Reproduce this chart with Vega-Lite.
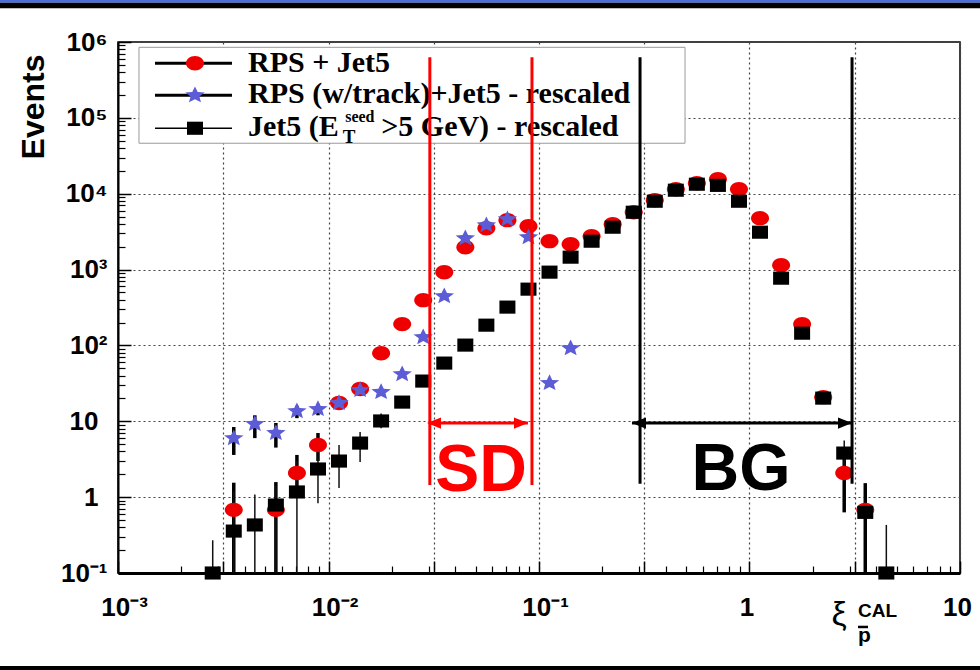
{
  "$schema": "https://vega.github.io/schema/vega-lite/v6.json",
  "width": 842,
  "height": 531,
  "autosize": {"type": "none"},
  "padding": {"left": 118, "top": 42, "right": 20, "bottom": 97},
  "background": "white",
  "config": {
    "view": {"stroke": "black", "strokeWidth": 1.5},
    "axis": {"labelFont": "Liberation Sans", "labelFontWeight": "bold", "labelColor": "black", "labelFontSize": 26, "tickColor": "black", "domainColor": "black", "titleColor": "black", "labelFlush": false, "labelOverlap": false, "labelBound": false}
  },
  "resolve": {"axis": {"x": "independent", "y": "independent"}},
  "datasets": {
    "pts": [
      {"s": "rps", "x": 0.003548, "y": 0.68}, {"s": "rps", "x": 0.005623, "y": 0.68}, {"s": "rps", "x": 0.007079, "y": 2.08}, {"s": "rps", "x": 0.008913, "y": 4.86}, {"s": "rps", "x": 0.01122, "y": 17.4}, {"s": "rps", "x": 0.01413, "y": 26.6}, {"s": "rps", "x": 0.01778, "y": 79}, {"s": "rps", "x": 0.02239, "y": 191}, {"s": "rps", "x": 0.02818, "y": 395}, {"s": "rps", "x": 0.03548, "y": 924}, {"s": "rps", "x": 0.04467, "y": 1970}, {"s": "rps", "x": 0.05623, "y": 3510}, {"s": "rps", "x": 0.07079, "y": 4480}, {"s": "rps", "x": 0.08913, "y": 3730}, {"s": "rps", "x": 0.1122, "y": 2370}, {"s": "rps", "x": 0.1413, "y": 2160}, {"s": "rps", "x": 0.1778, "y": 2750}, {"s": "rps", "x": 0.2239, "y": 3960}, {"s": "rps", "x": 0.2818, "y": 5700}, {"s": "rps", "x": 0.3548, "y": 8200}, {"s": "rps", "x": 0.4467, "y": 11460}, {"s": "rps", "x": 0.5623, "y": 13740}, {"s": "rps", "x": 0.7079, "y": 15500}, {"s": "rps", "x": 0.8913, "y": 11460}, {"s": "rps", "x": 1.122, "y": 4760}, {"s": "rps", "x": 1.413, "y": 1140}, {"s": "rps", "x": 1.778, "y": 191}, {"s": "rps", "x": 2.239, "y": 20.8}, {"s": "rps", "x": 2.818, "y": 2.08}, {"s": "rps", "x": 3.548, "y": 0.68},
      {"s": "trk", "x": 0.003548, "y": 6.0}, {"s": "trk", "x": 0.004467, "y": 9.2}, {"s": "trk", "x": 0.005623, "y": 7.0}, {"s": "trk", "x": 0.007079, "y": 13.6}, {"s": "trk", "x": 0.008913, "y": 14.5}, {"s": "trk", "x": 0.01122, "y": 17.4}, {"s": "trk", "x": 0.01413, "y": 25.8}, {"s": "trk", "x": 0.01778, "y": 24.3}, {"s": "trk", "x": 0.02239, "y": 41.9}, {"s": "trk", "x": 0.02818, "y": 128.6}, {"s": "trk", "x": 0.03548, "y": 446}, {"s": "trk", "x": 0.04467, "y": 2594}, {"s": "trk", "x": 0.05623, "y": 3846}, {"s": "trk", "x": 0.07079, "y": 4613}, {"s": "trk", "x": 0.08913, "y": 2673}, {"s": "trk", "x": 0.1122, "y": 31.9}, {"s": "trk", "x": 0.1413, "y": 92},
      {"s": "jet", "x": 0.002818, "y": 0.1}, {"s": "jet", "x": 0.003548, "y": 0.357}, {"s": "jet", "x": 0.004467, "y": 0.43}, {"s": "jet", "x": 0.005623, "y": 0.787}, {"s": "jet", "x": 0.007079, "y": 1.17}, {"s": "jet", "x": 0.008913, "y": 2.35}, {"s": "jet", "x": 0.01122, "y": 2.99}, {"s": "jet", "x": 0.01413, "y": 5.16}, {"s": "jet", "x": 0.01778, "y": 10.1}, {"s": "jet", "x": 0.02239, "y": 17.9}, {"s": "jet", "x": 0.02818, "y": 33.9}, {"s": "jet", "x": 0.03548, "y": 58.5}, {"s": "jet", "x": 0.04467, "y": 101}, {"s": "jet", "x": 0.05623, "y": 185}, {"s": "jet", "x": 0.07079, "y": 320}, {"s": "jet", "x": 0.08913, "y": 552}, {"s": "jet", "x": 0.1122, "y": 925}, {"s": "jet", "x": 0.1413, "y": 1457}, {"s": "jet", "x": 0.1778, "y": 2366}, {"s": "jet", "x": 0.2239, "y": 3619}, {"s": "jet", "x": 0.2818, "y": 5700}, {"s": "jet", "x": 0.3548, "y": 7960}, {"s": "jet", "x": 0.4467, "y": 11120}, {"s": "jet", "x": 0.5623, "y": 13340}, {"s": "jet", "x": 0.7079, "y": 12880}, {"s": "jet", "x": 0.8913, "y": 7960}, {"s": "jet", "x": 1.122, "y": 3110}, {"s": "jet", "x": 1.413, "y": 770}, {"s": "jet", "x": 1.778, "y": 145}, {"s": "jet", "x": 2.239, "y": 20.2}, {"s": "jet", "x": 2.818, "y": 3.81}, {"s": "jet", "x": 3.548, "y": 0.63}, {"s": "jet", "x": 4.467, "y": 0.1}
    ],
    "err": [
      {"s": "rps", "x": 0.003548, "lo": 0.1, "hi": 1.55}, {"s": "rps", "x": 0.005623, "lo": 0.1, "hi": 1.58}, {"s": "rps", "x": 0.007079, "lo": 1.0, "hi": 3.6}, {"s": "rps", "x": 0.008913, "lo": 3.0, "hi": 7.0}, {"s": "rps", "x": 2.818, "lo": 0.63, "hi": 3.6}, {"s": "rps", "x": 3.548, "lo": 0.1, "hi": 1.53},
      {"s": "trk", "x": 0.003548, "lo": 3.6, "hi": 8.4}, {"s": "trk", "x": 0.004467, "lo": 6.0, "hi": 12}, {"s": "trk", "x": 0.005623, "lo": 4.5, "hi": 9.5}, {"s": "trk", "x": 0.007079, "lo": 11, "hi": 16}, {"s": "trk", "x": 0.008913, "lo": 12, "hi": 17},
      {"s": "jet", "x": 0.002818, "lo": 0.1, "hi": 0.27}, {"s": "jet", "x": 0.003548, "lo": 0.1, "hi": 1.2}, {"s": "jet", "x": 0.004467, "lo": 0.1, "hi": 1.08}, {"s": "jet", "x": 0.005623, "lo": 0.1, "hi": 1.4}, {"s": "jet", "x": 0.007079, "lo": 0.1, "hi": 3.0}, {"s": "jet", "x": 0.008913, "lo": 0.83, "hi": 6.0}, {"s": "jet", "x": 0.01122, "lo": 1.32, "hi": 4.86}, {"s": "jet", "x": 0.01413, "lo": 2.9, "hi": 7.2}, {"s": "jet", "x": 0.01778, "lo": 8.1, "hi": 12.7}, {"s": "jet", "x": 2.818, "lo": 2.5, "hi": 5.6}, {"s": "jet", "x": 4.467, "lo": 0.1, "hi": 0.43}
    ]
  },
  "layer": [
    {"data": {"values": [{}]}, "mark": {"type": "rect", "color": "#4a6fd6"},
     "encoding": {"x": {"datum": 0.0001, "type": "quantitative", "scale": {"type": "log", "domain": [0.001, 10], "nice": false}, "axis": null}, "x2": {"datum": 100}, "y": {"datum": 3300000, "type": "quantitative", "scale": {"type": "log", "domain": [0.1, 1000000], "nice": false}, "axis": null}, "y2": {"datum": 100000000}}},
    {"data": {"values": [{}]}, "mark": {"type": "rect", "color": "black"},
     "encoding": {"x": {"datum": 0.0001, "type": "quantitative", "scale": {"type": "log", "domain": [0.001, 10], "nice": false}, "axis": null}, "x2": {"datum": 100}, "y": {"datum": 2780000, "type": "quantitative", "scale": {"type": "log", "domain": [0.1, 1000000], "nice": false}, "axis": null}, "y2": {"datum": 3300000}}},
    {"data": {"values": [{}]}, "mark": {"type": "rect", "color": "black"},
     "encoding": {"x": {"datum": 0.0001, "type": "quantitative", "scale": {"type": "log", "domain": [0.001, 10], "nice": false}, "axis": null}, "x2": {"datum": 100}, "y": {"datum": 0.00595, "type": "quantitative", "scale": {"type": "log", "domain": [0.1, 1000000], "nice": false}, "axis": null}, "y2": {"datum": 0.000001}}},
    {"data": {"values": [{}]}, "mark": {"type": "rect", "fill": "white", "stroke": "#9a9a9a", "strokeWidth": 1},
     "encoding": {"x": {"datum": 0.001258, "type": "quantitative", "scale": {"type": "log", "domain": [0.001, 10], "nice": false}, "axis": null}, "x2": {"datum": 0.494}, "y": {"datum": 46280, "type": "quantitative", "scale": {"type": "log", "domain": [0.1, 1000000], "nice": false}, "axis": null}, "y2": {"datum": 851000}}},
    {"data": {"name": "err"}, "transform": [{"filter": "datum.s != 'jet'"}], "mark": {"type": "rule", "color": "black", "strokeWidth": 3.5},
     "encoding": {"x": {"field": "x", "type": "quantitative", "scale": {"type": "log", "domain": [0.001, 10], "nice": false}, "axis": null}, "y": {"field": "lo", "type": "quantitative", "scale": {"type": "log", "domain": [0.1, 1000000], "nice": false}, "axis": null}, "y2": {"field": "hi"}}},
    {"data": {"name": "err"}, "transform": [{"filter": "datum.s == 'jet'"}], "mark": {"type": "rule", "color": "#111111", "strokeWidth": 1.5},
     "encoding": {"x": {"field": "x", "type": "quantitative", "scale": {"type": "log", "domain": [0.001, 10], "nice": false}, "axis": null}, "y": {"field": "lo", "type": "quantitative", "scale": {"type": "log", "domain": [0.1, 1000000], "nice": false}, "axis": null}, "y2": {"field": "hi"}}},
    {"data": {"name": "pts"}, "transform": [{"filter": "datum.s == 'rps'"}],
     "mark": {"type": "point", "filled": true, "shape": "M-1,0A1,0.8,0,1,1,1,0A1,0.8,0,1,1,-1,0Z", "size": 324, "color": "#ee0000", "opacity": 1},
     "encoding": {
       "x": {"field": "x", "type": "quantitative", "scale": {"type": "log", "domain": [0.001, 10], "nice": false},
             "axis": {"orient": "bottom", "title": null, "values": [0.001, 0.0031623, 0.01, 0.031623, 0.1, 0.31623, 3.1623],
                      "labelExpr": "datum.value == 0.001 ? '10⁻³' : datum.value == 0.01 ? '10⁻²' : datum.value == 0.1 ? '10⁻¹' : ''",
                      "grid": true, "gridColor": "#444444", "gridDash": [2, 3], "gridWidth": 1.2, "gridOpacity": 1,
                      "tickSize": -12, "tickWidth": 1.5, "domain": true, "domainWidth": 3, "labelPadding": 33, "labelOffset": 6}},
       "y": {"field": "y", "type": "quantitative", "scale": {"type": "log", "domain": [0.1, 1000000], "nice": false},
             "axis": {"orient": "left", "values": [0.1, 100, 1000, 10000, 100000, 1000000],
                      "labelExpr": "datum.value == 0.1 ? '10⁻¹' : datum.value == 100 ? '10²' : datum.value == 1000 ? '10³' : datum.value == 10000 ? '10⁴' : datum.value == 100000 ? '10⁵' : '10⁶'",
                      "title": "Events", "titleFont": "Liberation Sans", "titleFontWeight": "bold", "titleFontSize": 32, "titleAngle": -90, "titleX": -75, "titleY": 12, "titleAlign": "right", "titleBaseline": "alphabetic",
                      "grid": true, "gridColor": "#444444", "gridDash": [2, 3], "gridWidth": 1.2, "gridOpacity": 1,
                      "tickSize": -13, "tickWidth": 1.5, "domain": true, "domainWidth": 2, "labelPadding": 24}}
     }},
    {"data": {"name": "pts"}, "transform": [{"filter": "datum.s == 'trk'"}],
     "mark": {"type": "point", "filled": true, "shape": "M0,-0.85L0.2645,-0.309L0.951,-0.263L0.428,0.118L0.588,0.688L0,0.3825L-0.588,0.688L-0.428,0.118L-0.951,-0.263L-0.2645,-0.309Z", "size": 420, "color": "#5c5cd6", "opacity": 1},
     "encoding": {
       "x": {"field": "x", "type": "quantitative", "scale": {"type": "log", "domain": [0.001, 10], "nice": false},
             "axis": {"orient": "bottom", "title": null, "values": [1, 10], "labelExpr": "datum.value == 1 ? '1' : '10'",
                      "grid": true, "gridColor": "#444444", "gridDash": [2, 3], "gridWidth": 1.2, "gridOpacity": 1,
                      "tickSize": -12, "tickWidth": 1.5, "domain": false, "labelPadding": 33, "labelOffset": -3}},
       "y": {"field": "y", "type": "quantitative", "scale": {"type": "log", "domain": [0.1, 1000000], "nice": false},
             "axis": {"orient": "left", "title": null, "values": [1, 10], "labelExpr": "datum.value == 1 ? '1' : '10'",
                      "grid": true, "gridColor": "#444444", "gridDash": [2, 3], "gridWidth": 1.2, "gridOpacity": 1,
                      "tickSize": -13, "tickWidth": 1.5, "domain": false, "labelPadding": 33}}
     }},
    {"data": {"name": "pts"}, "transform": [{"filter": "datum.s == 'jet'"}],
     "mark": {"type": "point", "filled": true, "shape": "M-1,-0.82H1V0.82H-1Z", "size": 256, "color": "black", "opacity": 1},
     "encoding": {
       "x": {"field": "x", "type": "quantitative", "scale": {"type": "log", "domain": [0.001, 10], "nice": false},
             "axis": {"orient": "bottom", "title": null, "values": [0.002, 0.003, 0.004, 0.005, 0.006, 0.007, 0.008, 0.009, 0.02, 0.03, 0.04, 0.05, 0.06, 0.07, 0.08, 0.09, 0.2, 0.3, 0.4, 0.5, 0.6, 0.7, 0.8, 0.9, 2, 3, 4, 5, 6, 7, 8, 9],
                      "labels": false, "grid": false, "domain": false, "tickSize": -7, "tickWidth": 1.2}},
       "y": {"field": "y", "type": "quantitative", "scale": {"type": "log", "domain": [0.1, 1000000], "nice": false},
             "axis": {"orient": "left", "title": null, "values": [0.2, 0.3, 0.4, 0.5, 0.6, 0.7, 0.8, 0.9, 2, 3, 4, 5, 6, 7, 8, 9, 20, 30, 40, 50, 60, 70, 80, 90, 200, 300, 400, 500, 600, 700, 800, 900, 2000, 3000, 4000, 5000, 6000, 7000, 8000, 9000, 20000, 30000, 40000, 50000, 60000, 70000, 80000, 90000, 200000, 300000, 400000, 500000, 600000, 700000, 800000, 900000],
                      "labels": false, "grid": false, "domain": false, "tickSize": -7, "tickWidth": 1.2}}
     }},
    {"data": {"values": [{}]}, "mark": {"type": "rule", "color": "black", "strokeWidth": 3},
     "encoding": {"x": {"datum": 0.001499, "type": "quantitative", "scale": {"type": "log", "domain": [0.001, 10], "nice": false}, "axis": null}, "x2": {"datum": 0.003479}, "y": {"datum": 524000, "type": "quantitative", "scale": {"type": "log", "domain": [0.1, 1000000], "nice": false}, "axis": null}}},
    {"data": {"values": [{}]}, "mark": {"type": "rule", "color": "black", "strokeWidth": 3},
     "encoding": {"x": {"datum": 0.001499, "type": "quantitative", "scale": {"type": "log", "domain": [0.001, 10], "nice": false}, "axis": null}, "x2": {"datum": 0.003479}, "y": {"datum": 198600, "type": "quantitative", "scale": {"type": "log", "domain": [0.1, 1000000], "nice": false}, "axis": null}}},
    {"data": {"values": [{}]}, "mark": {"type": "rule", "color": "black", "strokeWidth": 1.5},
     "encoding": {"x": {"datum": 0.001499, "type": "quantitative", "scale": {"type": "log", "domain": [0.001, 10], "nice": false}, "axis": null}, "x2": {"datum": 0.003479}, "y": {"datum": 72950, "type": "quantitative", "scale": {"type": "log", "domain": [0.1, 1000000], "nice": false}, "axis": null}}},
    {"data": {"values": [{}]}, "mark": {"type": "point", "filled": true, "shape": "M-1,0A1,0.8,0,1,1,1,0A1,0.8,0,1,1,-1,0Z", "size": 324, "color": "#ee0000", "opacity": 1},
     "encoding": {"x": {"datum": 0.002321, "type": "quantitative", "scale": {"type": "log", "domain": [0.001, 10], "nice": false}, "axis": null}, "y": {"datum": 524000, "type": "quantitative", "scale": {"type": "log", "domain": [0.1, 1000000], "nice": false}, "axis": null}}},
    {"data": {"values": [{}]}, "mark": {"type": "point", "filled": true, "shape": "M0,-0.85L0.2645,-0.309L0.951,-0.263L0.428,0.118L0.588,0.688L0,0.3825L-0.588,0.688L-0.428,0.118L-0.951,-0.263L-0.2645,-0.309Z", "size": 420, "color": "#5c5cd6", "opacity": 1},
     "encoding": {"x": {"datum": 0.002321, "type": "quantitative", "scale": {"type": "log", "domain": [0.001, 10], "nice": false}, "axis": null}, "y": {"datum": 198600, "type": "quantitative", "scale": {"type": "log", "domain": [0.1, 1000000], "nice": false}, "axis": null}}},
    {"data": {"values": [{}]}, "mark": {"type": "point", "filled": true, "shape": "M-1,-0.82H1V0.82H-1Z", "size": 256, "color": "black", "opacity": 1},
     "encoding": {"x": {"datum": 0.002321, "type": "quantitative", "scale": {"type": "log", "domain": [0.001, 10], "nice": false}, "axis": null}, "y": {"datum": 72950, "type": "quantitative", "scale": {"type": "log", "domain": [0.1, 1000000], "nice": false}, "axis": null}}},
    {"data": {"values": [{}]}, "mark": {"type": "text", "text": "RPS + Jet5", "font": "Liberation Serif", "fontWeight": "bold", "fontSize": 30, "align": "left", "baseline": "alphabetic", "color": "black"},
     "encoding": {"x": {"datum": 0.004145, "type": "quantitative", "scale": {"type": "log", "domain": [0.001, 10], "nice": false}, "axis": null}, "y": {"datum": 398900, "type": "quantitative", "scale": {"type": "log", "domain": [0.1, 1000000], "nice": false}, "axis": null}}},
    {"data": {"values": [{}]}, "mark": {"type": "text", "text": "RPS (w/track)+Jet5 - rescaled", "font": "Liberation Serif", "fontWeight": "bold", "fontSize": 30, "align": "left", "baseline": "alphabetic", "color": "black"},
     "encoding": {"x": {"datum": 0.004145, "type": "quantitative", "scale": {"type": "log", "domain": [0.001, 10], "nice": false}, "axis": null}, "y": {"datum": 155800, "type": "quantitative", "scale": {"type": "log", "domain": [0.1, 1000000], "nice": false}, "axis": null}}},
    {"data": {"values": [{}]}, "mark": {"type": "text", "text": "Jet5 (E", "font": "Liberation Serif", "fontWeight": "bold", "fontSize": 30, "align": "left", "baseline": "alphabetic", "color": "black"},
     "encoding": {"x": {"datum": 0.004145, "type": "quantitative", "scale": {"type": "log", "domain": [0.001, 10], "nice": false}, "axis": null}, "y": {"datum": 57230, "type": "quantitative", "scale": {"type": "log", "domain": [0.1, 1000000], "nice": false}, "axis": null}}},
    {"data": {"values": [{}]}, "mark": {"type": "text", "text": "T", "font": "Liberation Serif", "fontWeight": "bold", "fontSize": 19, "align": "left", "baseline": "alphabetic", "color": "black"},
     "encoding": {"x": {"datum": 0.0117, "type": "quantitative", "scale": {"type": "log", "domain": [0.001, 10], "nice": false}, "axis": null}, "y": {"datum": 46280, "type": "quantitative", "scale": {"type": "log", "domain": [0.1, 1000000], "nice": false}, "axis": null}}},
    {"data": {"values": [{}]}, "mark": {"type": "text", "text": "seed", "font": "Liberation Serif", "fontWeight": "bold", "fontSize": 16, "align": "left", "baseline": "alphabetic", "color": "black"},
     "encoding": {"x": {"datum": 0.012, "type": "quantitative", "scale": {"type": "log", "domain": [0.001, 10], "nice": false}, "axis": null}, "y": {"datum": 87500, "type": "quantitative", "scale": {"type": "log", "domain": [0.1, 1000000], "nice": false}, "axis": null}}},
    {"data": {"values": [{}]}, "mark": {"type": "text", "text": ">5 GeV) - rescaled", "font": "Liberation Serif", "fontWeight": "bold", "fontSize": 30, "align": "left", "baseline": "alphabetic", "color": "black"},
     "encoding": {"x": {"datum": 0.0178, "type": "quantitative", "scale": {"type": "log", "domain": [0.001, 10], "nice": false}, "axis": null}, "y": {"datum": 57230, "type": "quantitative", "scale": {"type": "log", "domain": [0.1, 1000000], "nice": false}, "axis": null}}},
    {"data": {"values": [{}]}, "mark": {"type": "rule", "color": "#ff0000", "strokeWidth": 3},
     "encoding": {"x": {"datum": 0.0303, "type": "quantitative", "scale": {"type": "log", "domain": [0.001, 10], "nice": false}, "axis": null}, "y": {"datum": 628500, "type": "quantitative", "scale": {"type": "log", "domain": [0.1, 1000000], "nice": false}, "axis": null}, "y2": {"datum": 1.443}}},
    {"data": {"values": [{}]}, "mark": {"type": "rule", "color": "#ff0000", "strokeWidth": 3},
     "encoding": {"x": {"datum": 0.0926, "type": "quantitative", "scale": {"type": "log", "domain": [0.001, 10], "nice": false}, "axis": null}, "y": {"datum": 628500, "type": "quantitative", "scale": {"type": "log", "domain": [0.1, 1000000], "nice": false}, "axis": null}, "y2": {"datum": 1.443}}},
    {"data": {"values": [{}]}, "mark": {"type": "rule", "color": "#ff0000", "strokeWidth": 3},
     "encoding": {"x": {"datum": 0.0303, "type": "quantitative", "scale": {"type": "log", "domain": [0.001, 10], "nice": false}, "axis": null}, "x2": {"datum": 0.0886}, "y": {"datum": 9.47, "type": "quantitative", "scale": {"type": "log", "domain": [0.1, 1000000], "nice": false}, "axis": null}}},
    {"data": {"values": [{}]}, "mark": {"type": "point", "filled": true, "shape": "M-1,0L1,-0.8L1,0.8Z", "size": 196, "color": "#ff0000", "opacity": 1},
     "encoding": {"x": {"datum": 0.03171, "type": "quantitative", "scale": {"type": "log", "domain": [0.001, 10], "nice": false}, "axis": null}, "y": {"datum": 9.47, "type": "quantitative", "scale": {"type": "log", "domain": [0.1, 1000000], "nice": false}, "axis": null}}},
    {"data": {"values": [{}]}, "mark": {"type": "point", "filled": true, "shape": "M1,0L-1,-0.8L-1,0.8Z", "size": 196, "color": "#ff0000", "opacity": 1},
     "encoding": {"x": {"datum": 0.0821, "type": "quantitative", "scale": {"type": "log", "domain": [0.001, 10], "nice": false}, "axis": null}, "y": {"datum": 9.47, "type": "quantitative", "scale": {"type": "log", "domain": [0.1, 1000000], "nice": false}, "axis": null}}},
    {"data": {"values": [{}]}, "mark": {"type": "rule", "color": "black", "strokeWidth": 3},
     "encoding": {"x": {"datum": 0.302, "type": "quantitative", "scale": {"type": "log", "domain": [0.001, 10], "nice": false}, "axis": null}, "y": {"datum": 628500, "type": "quantitative", "scale": {"type": "log", "domain": [0.1, 1000000], "nice": false}, "axis": null}, "y2": {"datum": 1.5}}},
    {"data": {"values": [{}]}, "mark": {"type": "rule", "color": "black", "strokeWidth": 3},
     "encoding": {"x": {"datum": 3.07, "type": "quantitative", "scale": {"type": "log", "domain": [0.001, 10], "nice": false}, "axis": null}, "y": {"datum": 628500, "type": "quantitative", "scale": {"type": "log", "domain": [0.1, 1000000], "nice": false}, "axis": null}, "y2": {"datum": 1.5}}},
    {"data": {"values": [{}]}, "mark": {"type": "rule", "color": "black", "strokeWidth": 3},
     "encoding": {"x": {"datum": 0.2765, "type": "quantitative", "scale": {"type": "log", "domain": [0.001, 10], "nice": false}, "axis": null}, "x2": {"datum": 3.07}, "y": {"datum": 9.47, "type": "quantitative", "scale": {"type": "log", "domain": [0.1, 1000000], "nice": false}, "axis": null}}},
    {"data": {"values": [{}]}, "mark": {"type": "point", "filled": true, "shape": "M-1,0L1,-0.8L1,0.8Z", "size": 196, "color": "black", "opacity": 1},
     "encoding": {"x": {"datum": 0.2985, "type": "quantitative", "scale": {"type": "log", "domain": [0.001, 10], "nice": false}, "axis": null}, "y": {"datum": 9.47, "type": "quantitative", "scale": {"type": "log", "domain": [0.1, 1000000], "nice": false}, "axis": null}}},
    {"data": {"values": [{}]}, "mark": {"type": "point", "filled": true, "shape": "M1,0L-1,-0.8L-1,0.8Z", "size": 196, "color": "black", "opacity": 1},
     "encoding": {"x": {"datum": 2.843, "type": "quantitative", "scale": {"type": "log", "domain": [0.001, 10], "nice": false}, "axis": null}, "y": {"datum": 9.47, "type": "quantitative", "scale": {"type": "log", "domain": [0.1, 1000000], "nice": false}, "axis": null}}},
    {"data": {"values": [{}]}, "mark": {"type": "text", "text": "SD", "font": "Liberation Sans", "fontWeight": "bold", "fontSize": 66, "align": "center", "baseline": "alphabetic", "color": "#ff0000"},
     "encoding": {"x": {"datum": 0.05301, "type": "quantitative", "scale": {"type": "log", "domain": [0.001, 10], "nice": false}, "axis": null}, "y": {"datum": 1.203, "type": "quantitative", "scale": {"type": "log", "domain": [0.1, 1000000], "nice": false}, "axis": null}}},
    {"data": {"values": [{}]}, "mark": {"type": "text", "text": "BG", "font": "Liberation Sans", "fontWeight": "bold", "fontSize": 66, "align": "center", "baseline": "alphabetic", "color": "black"},
     "encoding": {"x": {"datum": 0.911, "type": "quantitative", "scale": {"type": "log", "domain": [0.001, 10], "nice": false}, "axis": null}, "y": {"datum": 1.24, "type": "quantitative", "scale": {"type": "log", "domain": [0.1, 1000000], "nice": false}, "axis": null}}},
    {"data": {"values": [{}]}, "mark": {"type": "text", "text": "ξ", "font": "Liberation Sans", "fontSize": 34, "align": "center", "baseline": "alphabetic", "color": "black"},
     "encoding": {"x": {"datum": 2.662, "type": "quantitative", "scale": {"type": "log", "domain": [0.001, 10], "nice": false}, "axis": null}, "y": {"datum": 0.02065, "type": "quantitative", "scale": {"type": "log", "domain": [0.1, 1000000], "nice": false}, "axis": null}}},
    {"data": {"values": [{}]}, "mark": {"type": "text", "text": "CAL", "font": "Liberation Sans", "fontWeight": "bold", "fontSize": 19, "align": "left", "baseline": "alphabetic", "color": "black"},
     "encoding": {"x": {"datum": 3.277, "type": "quantitative", "scale": {"type": "log", "domain": [0.001, 10], "nice": false}, "axis": null}, "y": {"datum": 0.02633, "type": "quantitative", "scale": {"type": "log", "domain": [0.1, 1000000], "nice": false}, "axis": null}}},
    {"data": {"values": [{}]}, "mark": {"type": "text", "text": "p", "font": "Liberation Sans", "fontWeight": "bold", "fontSize": 21, "align": "left", "baseline": "alphabetic", "color": "black"},
     "encoding": {"x": {"datum": 3.277, "type": "quantitative", "scale": {"type": "log", "domain": [0.001, 10], "nice": false}, "axis": null}, "y": {"datum": 0.01233, "type": "quantitative", "scale": {"type": "log", "domain": [0.1, 1000000], "nice": false}, "axis": null}}},
    {"data": {"values": [{}]}, "mark": {"type": "rule", "color": "black", "strokeWidth": 2.5},
     "encoding": {"x": {"datum": 3.277, "type": "quantitative", "scale": {"type": "log", "domain": [0.001, 10], "nice": false}, "axis": null}, "x2": {"datum": 3.656}, "y": {"datum": 0.01943, "type": "quantitative", "scale": {"type": "log", "domain": [0.1, 1000000], "nice": false}, "axis": null}}}
  ]
}
